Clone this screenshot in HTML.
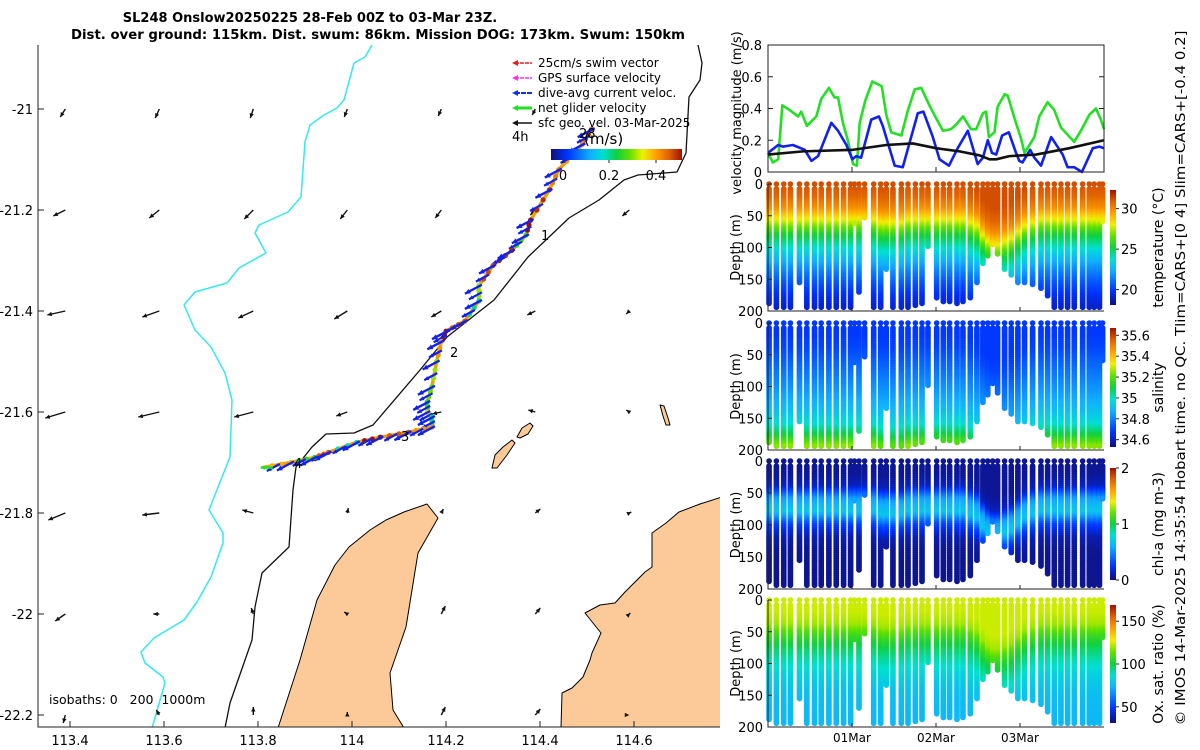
<!DOCTYPE html>
<html><head><meta charset="utf-8">
<style>
html,body{margin:0;padding:0;background:#fff;}
svg{display:block;font-family:"DejaVu Sans","Liberation Sans",sans-serif;}
</style></head>
<body>
<svg id="fig" width="1200" height="750" viewBox="0 0 1200 750" xmlns="http://www.w3.org/2000/svg">
<defs>
<clipPath id="mapclip"><rect x="38" y="45" width="682" height="682"/></clipPath>
<linearGradient id="cbar-h" x1="0" x2="1" y1="0" y2="0">
<stop offset="0" stop-color="#10107a"/><stop offset="0.12" stop-color="#0030ff"/><stop offset="0.3" stop-color="#10b0ff"/><stop offset="0.4" stop-color="#00e0d0"/><stop offset="0.5" stop-color="#10d040"/><stop offset="0.6" stop-color="#60e000"/><stop offset="0.7" stop-color="#f0f000"/><stop offset="0.8" stop-color="#ffa000"/><stop offset="0.9" stop-color="#e06000"/><stop offset="1" stop-color="#a01000"/>
</linearGradient>
<linearGradient id="cbar-v" x1="0" x2="0" y1="1" y2="0">
<stop offset="0" stop-color="#10107a"/><stop offset="0.12" stop-color="#0030ff"/><stop offset="0.3" stop-color="#10b0ff"/><stop offset="0.4" stop-color="#00e0d0"/><stop offset="0.5" stop-color="#10d040"/><stop offset="0.6" stop-color="#60e000"/><stop offset="0.7" stop-color="#f0f000"/><stop offset="0.8" stop-color="#ffa000"/><stop offset="0.9" stop-color="#e06000"/><stop offset="1" stop-color="#a01000"/>
</linearGradient>
</defs>
<text x="310" y="22" text-anchor="middle" font-size="13" font-weight="bold">SL248 Onslow20250225 28-Feb 00Z to 03-Mar 23Z.</text>
<text x="378" y="39" text-anchor="middle" font-size="13" font-weight="bold" textLength="614" lengthAdjust="spacingAndGlyphs">Dist. over ground: 115km. Dist. swum: 86km. Mission DOG: 173km. Swum: 150km</text>
<g id="map"></g>
<g id="vel"></g>
<g id="prof"></g>
<text transform="translate(1185,378) rotate(-90)" text-anchor="middle" font-size="13" textLength="695" lengthAdjust="spacingAndGlyphs">© IMOS 14-Mar-2025 14:35:54 Hobart time. no QC. Tlim=CARS+[0 4] Slim=CARS+[-0.4 0.2]</text>
</svg>
<script>
// ---------- velocity magnitude data (hours since 28-Feb 00Z, m/s) ----------
const netHours = [0,1.4,2.9,4.1,6.2,8.6,9.5,11.1,13.8,15.2,17.4,19.0,20.0,21.4,22.8,24.3,25.4,26.2,27.8,29.8,32.5,33.8,35.2,38.1,40.0,41.9,43.8,46.1,48.0,50.0,52.3,53.8,55.7,58.0,59.5,61.4,62.3,63.1,64.7,65.6,67.6,68.5,70.4,72.3,73.3,76.1,77.5,79.9,81.8,83.7,87.5,89.4,91.8,93.7,95.1,96];
const netVel = [0.12,0.06,0.08,0.42,0.39,0.35,0.38,0.29,0.35,0.46,0.53,0.47,0.47,0.31,0.2,0.05,0.04,0.31,0.45,0.57,0.54,0.36,0.25,0.23,0.39,0.52,0.53,0.42,0.34,0.26,0.27,0.3,0.35,0.27,0.27,0.37,0.38,0.22,0.25,0.41,0.49,0.48,0.34,0.21,0.12,0.22,0.35,0.44,0.39,0.28,0.19,0.26,0.36,0.4,0.33,0.27];
const curHours = [0,2.9,4.3,7.1,10.5,12.4,14.3,18.1,20.0,22.4,24.1,25.2,26.6,29.5,31.7,32.8,36.2,38.5,42.8,44.4,47.1,49.0,51.7,54.2,57.1,59.9,61.4,62.8,64.0,65.2,66.9,68.8,70.7,71.8,72.7,74.9,76.1,78.0,80.9,84.2,85.6,87.5,89.7,92.8,94.7,96];
const curVel = [0.12,0.17,0.16,0.17,0.14,0.07,0.1,0.31,0.26,0.17,0.08,0.1,0.09,0.33,0.35,0.29,0.04,0.03,0.37,0.38,0.22,0.08,0.04,0.15,0.26,0.05,0.09,0.2,0.12,0.11,0.23,0.25,0.13,0.07,0.06,0.14,0.09,0.04,0.22,0.11,0.03,0.03,0.0,0.15,0.16,0.15];
const geoHours = [0,10.0,24.3,33.8,41.4,48.0,54.7,60.4,63.3,65.2,69.0,76.6,86.1,96];
const geoVel = [0.11,0.13,0.14,0.17,0.18,0.15,0.13,0.105,0.08,0.08,0.1,0.11,0.15,0.2];
const velTicks = [0,0.2,0.4,0.6,0.8];
const dayTicks = [24,48,72];
const dayLabels = ["01Mar","02Mar","03Mar"];

// ---------- dive profiles ----------
const diveHours = [0.3,2.4,4.5,6.4,9.0,11.1,13.3,15.2,17.4,19.5,21.6,23.6,24.7,26.0,27.6,30.2,32.2,33.8,35.7,38.1,40.0,42.1,44.0,45.7,48.2,50.1,51.9,54.0,55.7,57.8,59.7,61.4,62.8,64.2,65.6,67.6,69.5,71.4,73.3,75.6,78.0,79.9,81.8,83.7,85.6,87.5,89.9,91.8,93.2,94.7,95.6];
const diveMaxDepth = [190,195,195,195,155,195,195,195,195,195,195,195,62,170,55,195,195,135,195,195,195,193,190,100,180,185,187,190,185,180,155,125,115,95,110,135,145,155,155,160,165,178,195,195,195,195,195,195,195,195,60];
const diveShift = [0,0,0,0,0,0,0,0,0,0,0,0,0,0,0,0,5,5,5,5,0,0,0,0,0,0,0,0,0,5,10,25,35,40,40,35,30,20,10,5,0,0,0,0,0,0,0,0,0,0,0];
const profDepths = [0,20,40,60,80,100,120,140,160,180,200];
const tempProfile = [31.2,30.8,29.8,27.8,25.5,24.0,22.6,21.4,20.4,19.6,19.0];
const salProfile = [34.68,34.68,34.70,34.74,34.78,34.82,34.86,34.91,34.98,35.12,35.3];
const chlProfile = [0.05,0.05,0.12,0.55,0.7,0.3,0.1,0.05,0.04,0.04,0.04];
const oxyProfile = [124,124,120,106,96,88,82,78,76,75,75];
const tempTicks=[20,25,30], salTicks=[34.6,34.8,35,35.2,35.4,35.6], chlTicks=[0,1,2], oxyTicks=[50,100,150];
const depthTicks=[0,50,100,150,200];

// ---------- map data ----------
const lonTicks=[113.4,113.6,113.8,114,114.2,114.4,114.6];
const latTicks=[-21,-21.2,-21.4,-21.6,-21.8,-22,-22.2];
const gridLon=[113.39,113.59,113.79,113.99,114.19,114.39,114.59];
const gridLat=[-21.0,-21.2,-21.4,-21.6,-21.8,-22.0,-22.2];
const geoU=[[-5,-4,-3,-3,-3,-3,-2],[-12,-10,-9,-7,-6,-5,-7],[-18,-17,-15,-13,-10,-8,-3],[-20,-21,-19,-11,-9,-7,-3],[-17,-17,-11,1,2,5,2],[-10,-6,-2,-3,4,5,1],[-2,-3,0,0,4,5,0]];
const geoV=[[-8,-9,-9,-8,-7,-6,-6],[-6,-8,-9,-9,-8,-5,-6],[-4,-6,-7,-8,-6,-4,-3],[-6,-5,-5,-4,-2,2,2],[-7,-2,3,5,4,4,1],[-7,0,6,2,8,6,1],[-8,5,8,3,8,6,0]];
const trackLon=[114.51,114.49,114.44,114.42,114.38,114.37,114.34,114.30,114.27,114.27,114.24,114.20,114.19,114.18,114.17,114.16,114.16,114.17,114.17,114.12,114.06,114.01,113.95,113.92,113.87,113.81];
const trackLat=[-21.04,-21.07,-21.12,-21.16,-21.22,-21.25,-21.28,-21.31,-21.35,-21.38,-21.42,-21.44,-21.46,-21.50,-21.55,-21.58,-21.60,-21.61,-21.63,-21.64,-21.65,-21.66,-21.68,-21.69,-21.70,-21.71];
const trackSpeed=[0.45,0.4,0.42,0.48,0.5,0.25,0.48,0.46,0.3,0.2,0.45,0.5,0.4,0.3,0.28,0.25,0.35,0.2,0.4,0.45,0.5,0.18,0.45,0.25,0.38,0.15];

const NS="http://www.w3.org/2000/svg";
function mk(tag,attrs,parent){const e=document.createElementNS(NS,tag);for(const k in attrs)e.setAttribute(k,attrs[k]);if(parent)parent.appendChild(e);return e;}
const stops=[[0,[16,16,122]],[0.12,[0,48,255]],[0.3,[16,176,255]],[0.4,[0,224,208]],[0.5,[16,208,64]],[0.6,[96,224,0]],[0.7,[240,240,0]],[0.8,[255,160,0]],[0.9,[224,96,0]],[1,[160,16,0]]];
function cmap(t){t=Math.max(0,Math.min(1,t));for(let i=1;i<stops.length;i++){if(t<=stops[i][0]){const a=stops[i-1],b=stops[i];const f=(t-a[0])/(b[0]-a[0]);const c=a[1].map((v,j)=>Math.round(v+(b[1][j]-v)*f));return `rgb(${c[0]},${c[1]},${c[2]})`;}}return 'rgb(160,16,0)';}
function interp(xs,ys,x){if(x<=xs[0])return ys[0];for(let i=1;i<xs.length;i++){if(x<=xs[i]){const f=(x-xs[i-1])/(xs[i]-xs[i-1]);return ys[i-1]+(ys[i]-ys[i-1])*f;}}return ys[ys.length-1];}

// ===== velocity panel =====
const vel=document.getElementById('vel');
const X0=768,X1=1104;
const tx=h=>X0+(X1-X0)*h/96;
const vy=v=>172-127*v/0.8;
function line(hours,vals,color,name){
  const p=mk('polyline',{points:hours.map((h,i)=>tx(h)+','+vy(vals[i])).join(' '),fill:'none',stroke:color,'stroke-width':2.6,'stroke-linejoin':'round'},vel);
  
  
}
line(netHours,netVel,'#22e022','net-velocity-line');
line(curHours,curVel,'#1020f0','current-velocity-line');
line(geoHours,geoVel,'#111','geostrophic-velocity-line');
const vb=mk('rect',{x:X0,y:45,width:X1-X0,height:127,fill:'none',stroke:'#222','stroke-width':1},vel);

velTicks.forEach(v=>{const y=vy(v);mk('line',{x1:X0,x2:X0+5,y1:y,y2:y,stroke:'#222'},vel);mk('line',{x1:X1-5,x2:X1,y1:y,y2:y,stroke:'#222'},vel);
 const t=mk('text',{x:762,y:y+5,'text-anchor':'end','font-size':13},vel);t.textContent=v===0?'0':v.toFixed(1);
 });
dayTicks.forEach(h=>{mk('line',{x1:tx(h),x2:tx(h),y1:172,y2:167,stroke:'#222'},vel);});
const vl=mk('text',{transform:'translate(741,113) rotate(-90)','text-anchor':'middle','font-size':13},vel);vl.textContent='velocity magnitude (m/s)';


// ===== profile panels =====
const prof=document.getElementById('prof');
const panels=[
 {top:184,bot:311,vals:tempProfile,lo:18.1,hi:32.3,ticks:tempTicks,label:'temperature (°C)',name:'temperature',fmt:v=>String(v),cbTop:190,cbBot:305},
 {top:323,bot:450,vals:salProfile,lo:34.53,hi:35.67,ticks:salTicks,label:'salinity',name:'salinity',fmt:v=>(Math.round(v*10)/10).toString(),cbTop:328,cbBot:447},
 {top:461,bot:589,vals:chlProfile,lo:0,hi:2,ticks:chlTicks,label:'chl-a (mg m-3)',name:'chlorophyll',fmt:v=>String(v),cbTop:468,cbBot:580},
 {top:600,bot:727,vals:oxyProfile,lo:31,hi:169,ticks:oxyTicks,label:'Ox. sat. ratio (%)',name:'oxygen',fmt:v=>String(v),cbTop:605,cbBot:723}
];
panels.forEach(P=>{
  const g=mk('g',{},prof);
  
  
  const dy=d=>P.top+(P.bot-P.top)*d/200;
  const colorAt=(d,i)=>cmap((interp(profDepths,P.vals,Math.max(0,d-diveShift[i]))-P.lo)/(P.hi-P.lo));
  diveHours.forEach((h,i)=>{
    const x=tx(h);
    const c0=mk('circle',{cx:x,cy:dy(0),r:2.8,fill:colorAt(0,i)},g);
    
    for(let d=8;d<=diveMaxDepth[i];d+=3){
      mk('circle',{cx:x,cy:dy(d),r:2.9,fill:colorAt(d,i)},g);
    }
  });
  const ax=mk('path',{d:`M${X0},${P.top} L${X0},${P.bot} L${X1},${P.bot}`,fill:'none',stroke:'#222'},g);
  
  depthTicks.forEach(d=>{mk('line',{x1:X0,x2:X0+4,y1:dy(d),y2:dy(d),stroke:'#222'},g);
    const t=mk('text',{x:763,y:dy(d)+5,'text-anchor':'end','font-size':13},g);t.textContent=d;
    });
  dayTicks.forEach(h=>mk('line',{x1:tx(h),x2:tx(h),y1:P.bot,y2:P.bot-4,stroke:'#222'},g));
  const dl=mk('text',{transform:`translate(740,${(P.top+P.bot)/2}) rotate(-90)`,'text-anchor':'middle','font-size':13},g);dl.textContent='Depth (m)';
  
  const cb=mk('rect',{x:1110,y:P.cbTop,width:6,height:P.cbBot-P.cbTop,fill:'url(#cbar-v)'},g);
  
  P.ticks.forEach(v=>{const y=P.cbBot-(P.cbBot-P.cbTop)*(v-P.lo)/(P.hi-P.lo);
    mk('line',{x1:1116,x2:1119,y1:y,y2:y,stroke:'#222'},g);
    const t=mk('text',{x:1121,y:y+5,'font-size':13},g);t.textContent=P.fmt(v);
    });
  const cl=mk('text',{transform:`translate(1163,${(P.cbTop+P.cbBot)/2}) rotate(-90)`,'text-anchor':'middle','font-size':14},g);cl.textContent=P.label;
  
});
dayTicks.forEach((h,i)=>{const t=mk('text',{x:tx(h),y:742,'text-anchor':'middle','font-size':12},prof);t.textContent=dayLabels[i];
  });

// ===== map =====
const map=document.getElementById('map');
const mx=lon=>70+(lon-113.4)/0.2*94;
const my=lat=>109+(-21-lat)/0.2*101;
const mg=mk('g',{'clip-path':'url(#mapclip)'},map);
function poly(pts,fill,stroke,w,name,closed){const e=mk(closed?'polygon':'polyline',{points:pts.map(p=>p.join(',')).join(' '),fill:fill,stroke:stroke,'stroke-width':w,'stroke-linejoin':'round'},mg);
  return e;}
poly([[278,728],[300,660],[317,600],[335,565],[349,547],[370,530],[386,520],[404,512],[427,504],[438,518],[418,553],[412,590],[406,627],[398,650],[390,673],[393,710],[404,728]],'#fbca98','#000',1,'land-peninsula',true);
poly([[561,728],[562,693],[572,688],[583,677],[590,660],[592,653],[601,633],[585,613],[600,605],[615,603],[625,592],[634,583],[645,572],[652,567],[652,533],[666,523],[679,512],[700,504],[722,497],[722,728]],'#fbca98','#000',1,'land-mainland',true);
poly([[492,468],[495,455],[503,447],[512,440],[515,443],[507,455],[497,468]],'#fbca98','#000',1,'island-1',true);
poly([[517,437],[522,428],[530,423],[533,426],[528,434],[520,438]],'#fbca98','#000',1,'island-2',true);
poly([[660,405],[664,406],[668,418],[670,425],[666,425],[663,416]],'#fbca98','#000',1,'island-3',true);
poly([[372,45],[365,57],[354,63],[344,100],[337,108],[324,115],[310,125],[305,142],[301,197],[288,212],[259,225],[255,233],[266,253],[239,268],[227,283],[195,292],[184,305],[195,330],[211,347],[225,373],[232,400],[230,457],[209,510],[223,533],[223,543],[211,577],[197,602],[184,620],[154,638],[141,652],[145,663],[163,677],[165,683],[152,728]],'none','#33e8f0',1.5,'isobath-1000m',false);
poly([[698,45],[702,63],[700,80],[689,97],[686,153],[677,172],[638,175],[624,180],[599,200],[569,218],[528,257],[494,300],[447,337],[420,370],[373,425],[354,433],[326,434],[312,447],[296,467],[293,490],[289,547],[262,573],[255,607],[252,640],[230,703],[225,728]],'none','#111',1.3,'isobath-200m',false);
function arrow(g,x0,y0,x1,y1,color,w,hs,name){
  const a=mk('g',{},g);
  mk('line',{x1:x0,y1:y0,x2:x1,y2:y1,stroke:color,'stroke-width':w},a);
  const ang=Math.atan2(y1-y0,x1-x0);
  const p=[[x1,y1],[x1-hs*Math.cos(ang-0.45),y1-hs*Math.sin(ang-0.45)],[x1-hs*Math.cos(ang+0.45),y1-hs*Math.sin(ang+0.45)]];
  mk('polygon',{points:p.map(q=>q.join(',')).join(' '),fill:color},a);
}
gridLat.forEach((lat,r)=>gridLon.forEach((lon,c)=>{
  if(r===0&&c===6)return;
  const x=mx(lon),y=my(lat);
  arrow(mg,x,y,x+geoU[r][c],y-geoV[r][c],'#111',1.4,5,'geostrophic-arrow');
}));
const tpts=trackLon.map((l,i)=>[mx(l),my(trackLat[i])]);
poly(tpts,'none','#f0a000',3.5,'glider-track',false);
for(let i=0;i<tpts.length-1;i++){
  for(let k=0;k<3;k++){
    const f=k/3;const x=tpts[i][0]+(tpts[i+1][0]-tpts[i][0])*f,y=tpts[i][1]+(tpts[i+1][1]-tpts[i][1])*f;
    const c=mk('circle',{cx:x,cy:y,r:2.6,fill:cmap((trackSpeed[i]+0.05)/0.55)},mg);
    
  }
  const x=tpts[i][0],y=tpts[i][1];
  arrow(mg,x+3,y-1,x-14,y+8,'#1020f0',2.4,6,'current-vector');
  const xm=(tpts[i][0]+tpts[i+1][0])/2,ym=(tpts[i][1]+tpts[i+1][1])/2;
  arrow(mg,xm+3,ym-1,xm-10,ym+6,'#1020f0',2.2,5,'current-vector');
}
const startArr=tpts[tpts.length-1];
arrow(mg,startArr[0]+10,startArr[1],startArr[0]-2,startArr[1],'#22e022',2.5,5,'net-velocity-vector');
[['28',579,138],['1',541,240],['2',450,357],['3',401,441],['4',294,468]].forEach(d=>{
  const t=mk('text',{x:d[1],y:d[2],'font-size':13},mg);t.textContent=d[0];
  });
const mb=mk('path',{d:'M38,45 L38,727 L720,727',fill:'none',stroke:'#222','stroke-width':1},map);

lonTicks.forEach(l=>{const x=mx(l);mk('line',{x1:x,x2:x,y1:727,y2:721,stroke:'#222'},map);
  const t=mk('text',{x:x,y:745,'text-anchor':'middle','font-size':13},map);t.textContent=String(l);
  });
latTicks.forEach(l=>{const y=my(l);mk('line',{x1:38,x2:44,y1:y,y2:y,stroke:'#222'},map);
  const t=mk('text',{x:33,y:y+5,'text-anchor':'end','font-size':13},map);t.textContent=String(l);
  });
const iso=mk('text',{x:49,y:704,'font-size':12.5},map);iso.textContent='isobaths: 0\u00a0\u00a0\u00a0200\u00a0\u00a01000m';

const leg=mk('g',{},map);
[['25cm/s swim vector','#e02020',1.5,'4,1'],['GPS surface velocity','#ff30ff',1.5,'4,1'],['dive-avg current veloc.','#1030f0',2,'5,1'],['net glider velocity','#22e022',3,''],['sfc geo. vel. 03-Mar-2025','#111',1.5,'']].forEach((e,i)=>{
  const y=63+i*15;
  const r=mk('g',{},leg);
  mk('line',{x1:515,x2:532,y1:y,y2:y,stroke:e[1],'stroke-width':e[2],'stroke-dasharray':e[3]},r);
  mk('polygon',{points:`${512},${y} ${518},${y-3} ${518},${y+3}`,fill:e[1]},r);
  const t=mk('text',{x:538,y:y+4,'font-size':12},r);t.textContent=e[0];
});
const t4=mk('text',{x:512,y:141,'font-size':13},map);t4.textContent='4h';

const tu=mk('text',{x:584,y:144,'font-size':15},map);tu.textContent='(m/s)';

const hb=mk('rect',{x:551,y:149,width:131,height:11,fill:'url(#cbar-h)'},map);

[['0',563],['0.2',609],['0.4',656]].forEach(d=>{mk('line',{x1:d[1],x2:d[1],y1:160,y2:163,stroke:'#222'},map);
  const t=mk('text',{x:d[1],y:180,'text-anchor':'middle','font-size':13},map);t.textContent=d[0];
  });
</script>
</body></html>
